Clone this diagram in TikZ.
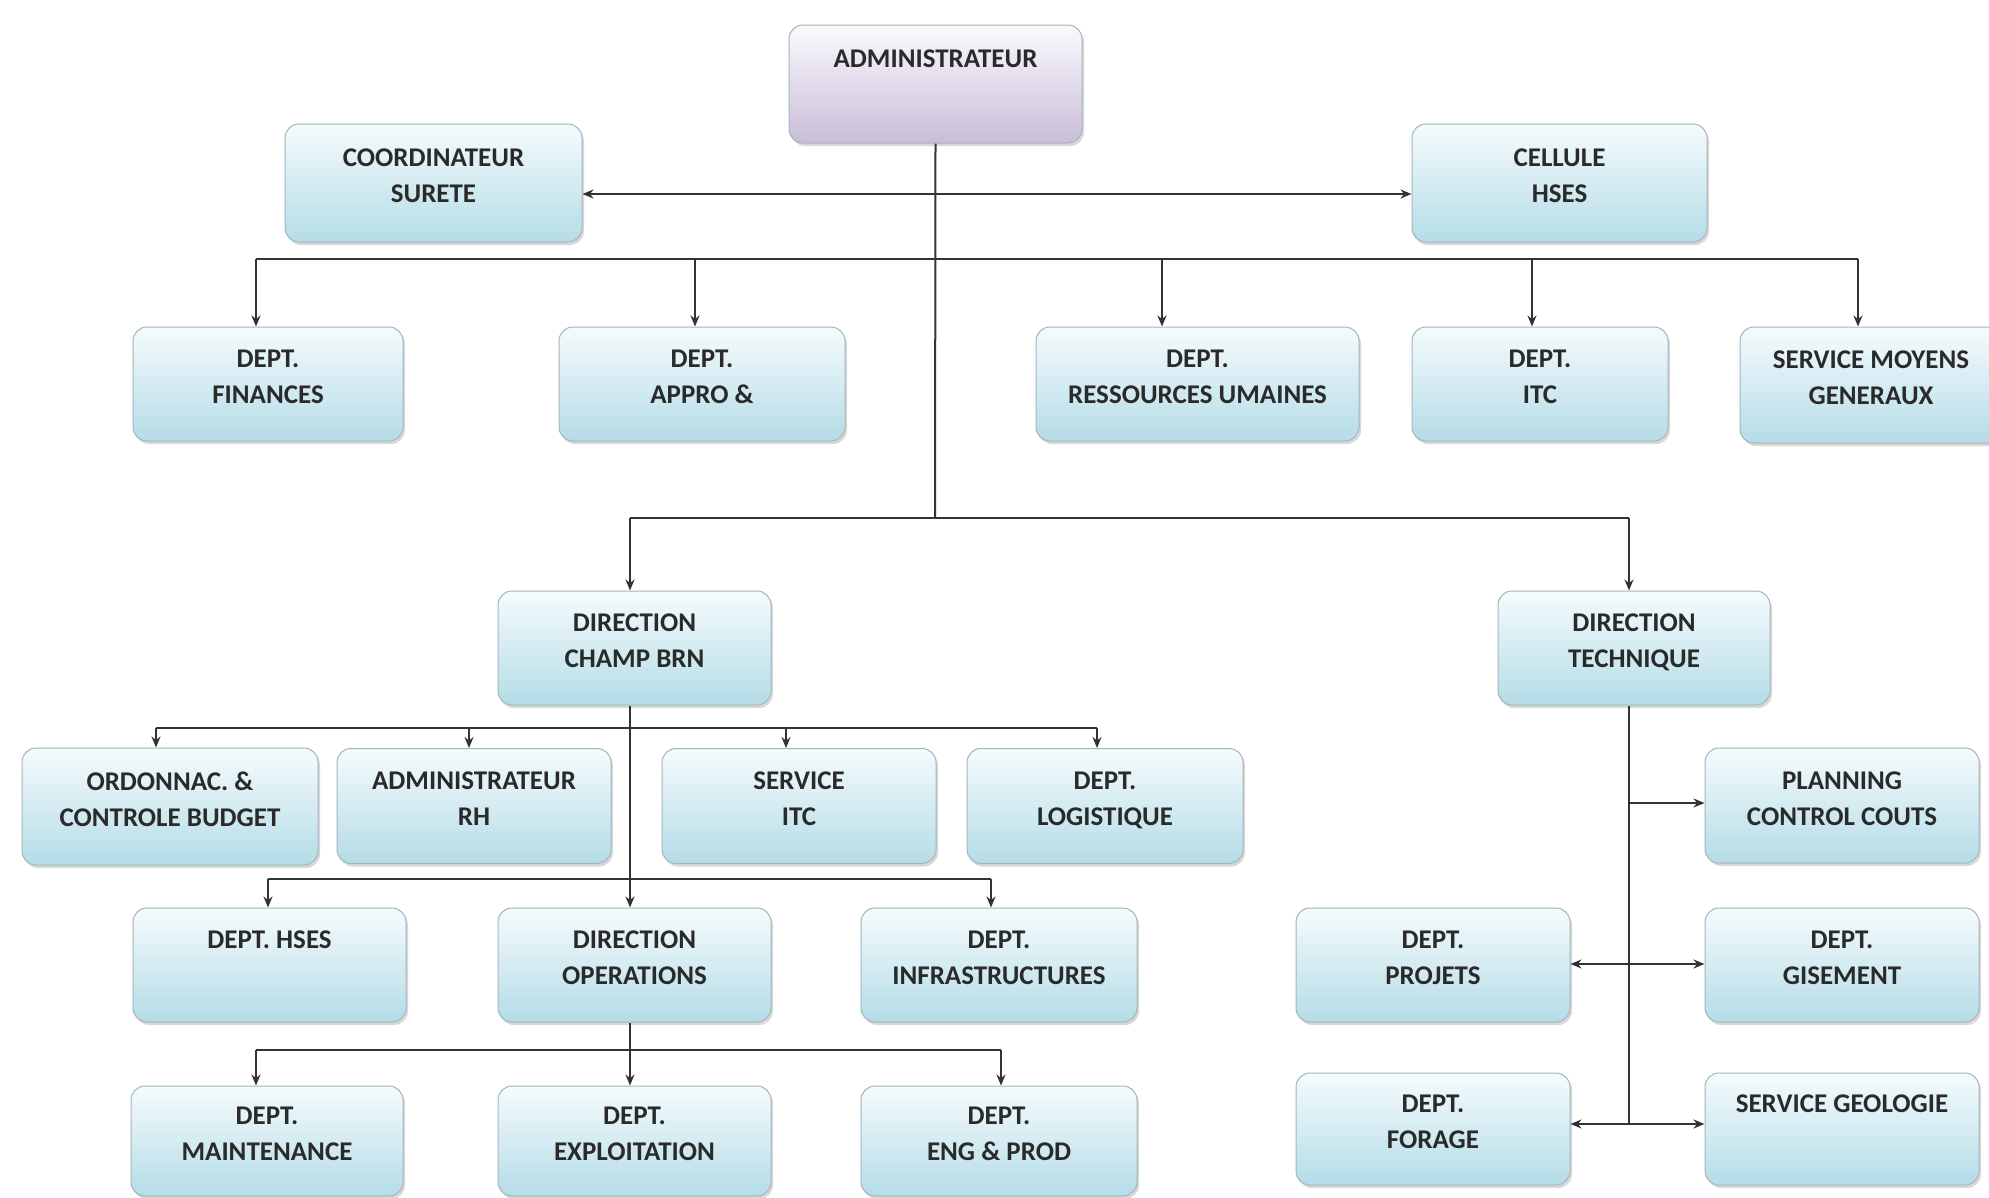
\documentclass[tikz,border=0pt]{standalone}
\usepackage{fontspec}
\setmainfont{Carlito}
\usetikzlibrary{arrows.meta,shadows}
\definecolor{bluetop}{HTML}{F5FBFD}
\definecolor{bluebot}{HTML}{B5DCE7}
\definecolor{purtop}{HTML}{FBFAFD}
\definecolor{purbot}{HTML}{C9BDD9}
\definecolor{edgec}{HTML}{A3B6BE}
\definecolor{linec}{HTML}{333333}
\definecolor{txtc}{HTML}{2A2A2A}
\begin{document}
\begin{tikzpicture}[x=1pt,y=-1pt,
  box/.style 2 args={draw=edgec, line width=1pt, rounded corners=14pt,
    top color=bluetop, bottom color=bluebot,
    minimum width=#1pt, minimum height=#2pt, inner sep=0pt, align=center,
    font=\bfseries\fontsize{27}{36}\selectfont, text=txtc, text depth=14pt,
    drop shadow={shadow xshift=2pt, shadow yshift=-3pt, opacity=0.3}},
  conn/.style={draw=linec, line width=2pt},
  arr/.style={conn, -{Stealth[length=11pt,width=9pt]}},
  biarr/.style={conn, {Stealth[length=11pt,width=9pt]}-{Stealth[length=11pt,width=9pt]}}]
\fill[white] (0,0) rectangle (1989,1197);
\useasboundingbox (0,0) rectangle (1989,1197);

% top
\node[box={293}{118}, top color=purtop, bottom color=purbot] (admin) at (935.5,84) {ADMINISTRATEUR\\\mbox{}};
\node[box={297}{118}] (coord) at (433.5,183) {COORDINATEUR\\SURETE};
\node[box={295}{118}] (cell) at (1559.5,183) {CELLULE\\HSES};

% row 2
\node[box={270}{114}] (fin) at (268,384) {DEPT.\\FINANCES};
\node[box={286}{114}] (appro) at (702,384) {DEPT.\\APPRO \&};
\node[box={323}{114}] (rh) at (1197.5,384) {DEPT.\\RESSOURCES UMAINES};
\node[box={256}{114}] (itc) at (1540,384) {DEPT.\\ITC};
\node[box={262}{116}] (moy) at (1871,385) {SERVICE MOYENS\\GENERAUX};

% directions
\node[box={273}{114}] (champ) at (634.5,648) {DIRECTION\\CHAMP BRN};
\node[box={272}{114}] (tech) at (1634,648) {DIRECTION\\TECHNIQUE};

% champ children
\node[box={296}{117}] (ord) at (170,806.5) {ORDONNAC. \&\\CONTROLE BUDGET};
\node[box={274}{115}] (arh) at (474,806) {ADMINISTRATEUR\\RH};
\node[box={274}{115}] (sitc) at (799,806) {SERVICE\\ITC};
\node[box={276}{115}] (log) at (1105,806) {DEPT.\\LOGISTIQUE};

\node[box={273}{114}] (hses) at (269.5,965) {DEPT. HSES\\\mbox{}};
\node[box={273}{114}] (ops) at (634.5,965) {DIRECTION\\OPERATIONS};
\node[box={276}{114}] (infra) at (999,965) {DEPT.\\INFRASTRUCTURES};

\node[box={272}{110}] (maint) at (267,1141) {DEPT.\\MAINTENANCE};
\node[box={273}{110}] (expl) at (634.5,1141) {DEPT.\\EXPLOITATION};
\node[box={276}{110}] (eng) at (999,1141) {DEPT.\\ENG \& PROD};

% technique children
\node[box={274}{115}] (plan) at (1842,805.5) {PLANNING\\CONTROL COUTS};
\node[box={274}{114}] (gis) at (1842,965) {DEPT.\\GISEMENT};
\node[box={274}{114}] (proj) at (1433,965) {DEPT.\\PROJETS};
\node[box={274}{112}] (geo) at (1842,1129) {SERVICE GEOLOGIE\\\mbox{}};
\node[box={274}{112}] (for) at (1433,1129) {DEPT.\\FORAGE};

% connectors: top
\coordinate (j1) at (935,194);
\coordinate (j3) at (935,518);
\draw[conn] (admin.south) -- (j3);
\draw[biarr] (j1 -| coord.east) -- (j1 -| cell.west);

\coordinate (b1) at (256,259);
\coordinate (b2) at (695,259);
\coordinate (b3) at (1162,259);
\coordinate (b4) at (1532,259);
\coordinate (b5) at (1858,259);
\draw[conn] (b1) -- (b5);
\draw[arr] (b1) -- (b1 |- fin.north);
\draw[arr] (b2) -- (b2 |- appro.north);
\draw[arr] (b3) -- (b3 |- rh.north);
\draw[arr] (b4) -- (b4 |- itc.north);
\draw[arr] (b5) -- (b5 |- moy.north);

\coordinate (d1) at (630,518);
\coordinate (d2) at (1629,518);
\draw[conn] (d1) -- (d2);
\draw[arr] (d1) -- (d1 |- champ.north);
\draw[arr] (d2) -- (d2 |- tech.north);

% champ
\coordinate (c1) at (156,728);
\coordinate (c2) at (469,728);
\coordinate (c3) at (786,728);
\coordinate (c4) at (1097,728);
\coordinate (cv) at (630,728);
\draw[arr] (cv |- champ.south) -- (cv |- ops.north);
\draw[conn] (c1) -- (c4);
\draw[arr] (c1) -- (c1 |- ord.north);
\draw[arr] (c2) -- (c2 |- arh.north);
\draw[arr] (c3) -- (c3 |- sitc.north);
\draw[arr] (c4) -- (c4 |- log.north);

\coordinate (e1) at (268,879);
\coordinate (e2) at (991,879);
\draw[conn] (e1) -- (e2);
\draw[arr] (e1) -- (e1 |- hses.north);
\draw[arr] (e2) -- (e2 |- infra.north);

% operations
\coordinate (ov) at (630,1050);
\coordinate (o1) at (256,1050);
\coordinate (o3) at (1001,1050);
\draw[conn] (ov |- ops.south) -- (ov);
\draw[conn] (o1) -- (o3);
\draw[arr] (o1) -- (o1 |- maint.north);
\draw[arr] (ov) -- (ov |- expl.north);
\draw[arr] (o3) -- (o3 |- eng.north);

% technique
\coordinate (t1) at (1629,803);
\coordinate (t2) at (1629,964);
\coordinate (t3) at (1629,1124);
\draw[conn] (t3 |- tech.south) -- (t3);
\draw[arr] (t1) -- (t1 -| plan.west);
\draw[arr] (t2) -- (t2 -| gis.west);
\draw[arr] (t2) -- (t2 -| proj.east);
\draw[arr] (t3) -- (t3 -| geo.west);
\draw[arr] (t3) -- (t3 -| for.east);
\end{tikzpicture}
\end{document}
